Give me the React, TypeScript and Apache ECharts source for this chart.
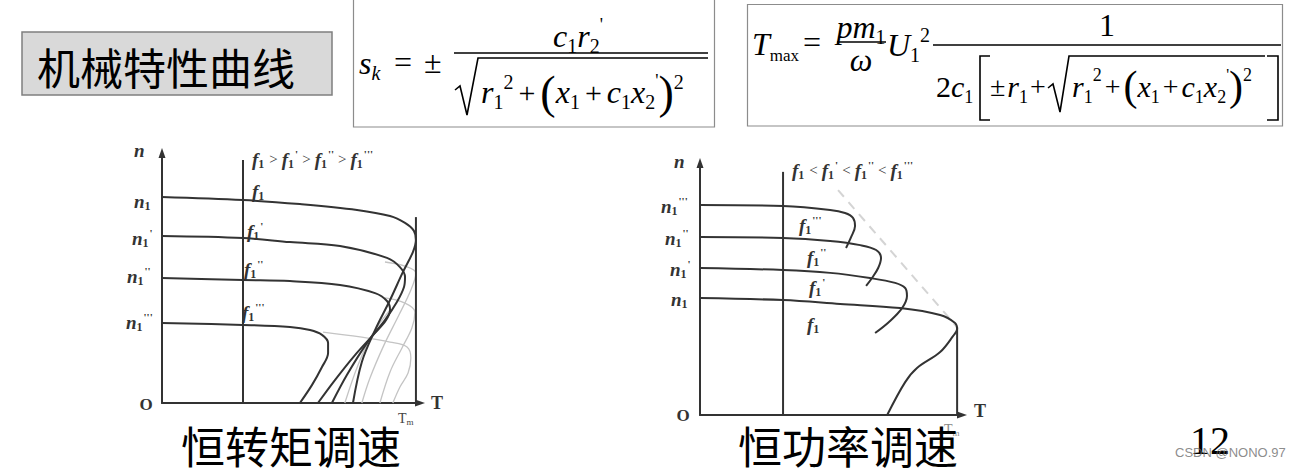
import React, { useEffect, useRef } from 'react';
import * as echarts from 'echarts';

// ---------- data (T in % of Tm, n in % of axis height) ----------
// 恒转矩调速 (left)
const leftF1 = [[0, 80.8], [31.9, 79.6], [54.3, 78.0], [76.8, 75.7], [89.8, 73.3], [95.7, 70.6], [99.2, 67.5], [100, 63.9], [98.8, 59.2], [94.9, 51.4], [89.8, 40.4], [83.9, 28.6], [78.7, 16.1], [75.2, 0]];
const leftF1p = [[0, 65.5], [31.9, 64.7], [50.4, 63.1], [70.1, 61.6], [88.6, 56.9], [93.7, 53.3], [95.7, 49.4], [95.3, 45.5], [92.5, 39.6], [87.8, 32.5], [80.7, 23.5], [72.8, 11.0], [66.9, 0]];
const leftF1pp = [[0, 49.0], [31.9, 48.2], [50.4, 47.8], [70.1, 46.3], [83.9, 43.1], [88.6, 40.0], [89.8, 36.5], [88.2, 32.5], [83.9, 27.5], [76.0, 18.8], [68.1, 9.0], [61.4, 0]];
const leftF1ppp = [[0, 31.4], [31.9, 30.6], [50.4, 29.8], [58.3, 28.6], [63.0, 26.7], [65.4, 23.5], [65.4, 19.6], [63.0, 14.1], [59.1, 7.1], [54.3, 0]];
const leftGrayA = [[87.8, 55.3], [95.7, 53.7], [100, 51.0], [98.0, 44.3], [93.3, 34.5], [87.4, 22.7], [81.9, 9.8], [78.7, 0]];
const leftGrayB = [[87.8, 41.2], [95.7, 39.2], [99.6, 35.7], [98.4, 29.4], [94.5, 21.6], [89.8, 12.2], [85.8, 0]];
const leftGrayC = [[63.4, 27.8], [78.0, 25.9], [89.8, 23.9], [96.5, 22.0], [98.0, 17.6], [96.9, 11.8], [93.7, 6.3], [90.9, 0]];
const leftGrayD = [[72.0, 0], [77.2, 14.9], [82.7, 26.7], [89.8, 36.5]];
const leftMidLine = [[31.9, 0], [31.9, 95.3]];
const leftTmLine = [[100, 0], [100, 72.9]];

// 恒功率调速 (right)
const rightF1ppp = [[0, 81.7], [32.3, 81.3], [50.6, 79.8], [56.4, 78.6], [59.5, 76.7], [60.3, 73.5], [58.8, 69.3], [56.8, 65.0]];
const rightF1pp = [[0, 69.3], [32.3, 68.9], [50.6, 67.7], [62.3, 66.1], [68.5, 64.2], [70.4, 61.1], [69.3, 57.2], [66.9, 53.3], [64.6, 50.2]];
const rightF1p = [[0, 57.2], [32.3, 56.4], [50.6, 55.3], [66.1, 53.3], [75.9, 51.4], [79.8, 49.4], [80.5, 46.3], [78.6, 41.6], [73.5, 36.2], [68.1, 31.9]];
const rightF1 = [[0, 45.5], [32.3, 44.7], [54.5, 43.2], [77.8, 41.6], [93.4, 38.9], [99.2, 35.8], [100, 33.5], [98.4, 30.7], [93.4, 24.5], [84.4, 18.3], [79.8, 12.8], [72.8, 0]];
const rightDiag = [[53.7, 87.5], [100, 34.2]];
const rightMidLine = [[32.3, 0], [32.3, 94.6]];
const rightTmLine = [[100, 0], [100, 34.2]];

// texts
const titleText = '机械特性曲线';
const leftCaption = '恒转矩调速';
const rightCaption = '恒功率调速';
const pageNo = '12';
const watermark = 'CSDN @NONO.97';

const SERIF = '"Liberation Serif", "Times New Roman", serif';
const CJK = '"Noto Sans CJK SC", sans-serif';

function mathRich(main: number, sub: number, pad: number, paren: number): any {
  return {
    i: { fontFamily: SERIF, fontStyle: 'italic', fontSize: main, lineHeight: 40 },
    n: { fontFamily: SERIF, fontSize: main, lineHeight: 40 },
    b: { fontFamily: SERIF, fontSize: main - 2, lineHeight: 40, padding: [0, pad] },
    s: { fontFamily: SERIF, fontSize: sub, lineHeight: 22, verticalAlign: 'bottom' },
    si: { fontFamily: SERIF, fontStyle: 'italic', fontSize: sub, lineHeight: 22, verticalAlign: 'bottom' },
    sr: { fontFamily: SERIF, fontSize: sub - 3, lineHeight: 20, verticalAlign: 'bottom' },
    u: { fontFamily: SERIF, fontSize: sub, lineHeight: 22, verticalAlign: 'top' },
    q: { fontFamily: SERIF, fontSize: sub - 2, lineHeight: 24, verticalAlign: 'top' },
    P: { fontFamily: SERIF, fontSize: paren, lineHeight: 40 },
  };
}
const FR = mathRich(32, 20, 5, 46);
const FR2 = mathRich(30, 18, 3, 42);
const FR3 = mathRich(30, 18, 2, 42);

const LR: any = {
  i: { fontFamily: SERIF, fontStyle: 'italic', fontWeight: 'bold', fontSize: 19, lineHeight: 22 },
  s: { fontFamily: SERIF, fontWeight: 'bold', fontSize: 12, lineHeight: 13, verticalAlign: 'bottom', padding: [0, 1, 0, 0] },
  p: { fontFamily: SERIF, fontWeight: 'bold', fontSize: 11, lineHeight: 13, verticalAlign: 'top' },
  o: { fontFamily: SERIF, fontSize: 15, lineHeight: 22, padding: [0, 4] },
};

function txt(x: number, y: number, text: string, rich: any, extra: any = {}) {
  return {
    type: 'text',
    x,
    y,
    silent: true,
    style: {
      text,
      rich,
      fill: extra.fill || '#000',
      align: extra.align || 'left',
      verticalAlign: 'middle',
      fontFamily: extra.fontFamily || SERIF,
      fontSize: extra.fontSize || 16,
      fontWeight: extra.fontWeight || 'normal',
    },
    z: extra.z || 10,
  };
}

function pl(points: number[][], w = 1.6, color = '#000') {
  return { type: 'polyline', silent: true, shape: { points }, style: { stroke: color, lineWidth: w, fill: 'none' }, z: 10 };
}

function ln(x1: number, y1: number, x2: number, y2: number, w = 1.6, color = '#000') {
  return { type: 'line', silent: true, shape: { x1, y1, x2, y2 }, style: { stroke: color, lineWidth: w }, z: 10 };
}

const denomInner = "{i|r}{s|1}{u|2}{b|+}{P|(}{i|x}{s|1}{b|+}{i|c}{s|1}{i|x}{s|2}{q|'}{P|)}{u|2}";

export default function App() {
  const ref = useRef<HTMLDivElement>(null);
  useEffect(() => {
    const chart = echarts.init(ref.current!, null, { renderer: 'svg' });
    const dark = '#333';
    const gray = '#c4c4c4';
    const curve = (data: number[][], gi: number, color: string, width: number, z = 3, type: any = 'solid') => ({
      type: 'line', xAxisIndex: gi, yAxisIndex: gi, data, smooth: 0.35, showSymbol: false, symbol: 'none',
      lineStyle: { color, width, type }, silent: true, z, clip: false,
    });
    const straight = (data: number[][], gi: number) => ({
      type: 'line', xAxisIndex: gi, yAxisIndex: gi, data, smooth: false, showSymbol: false, symbol: 'none',
      lineStyle: { color: dark, width: 2 }, silent: true, z: 4, clip: false,
    });
    const axisCommon = {
      type: 'value',
      axisLine: { show: true, onZero: false, lineStyle: { color: dark, width: 2 }, symbol: ['none', 'triangle'], symbolSize: [7, 10] },
      axisTick: { show: false }, axisLabel: { show: false }, splitLine: { show: false },
    };

    const labelFill = { fill: '#333' };
    const tmRich = { a: { fontFamily: SERIF, fontSize: 14, lineHeight: 16 }, b: { fontFamily: SERIF, fontSize: 9, lineHeight: 10, verticalAlign: 'bottom' } };
    const graphic: any[] = [
      // title
      { type: 'rect', silent: true, shape: { x: 22, y: 32, width: 310, height: 63 }, style: { fill: '#d9d9d9', stroke: '#7f7f7f', lineWidth: 1.5 }, z: 5 },
      txt(37, 66, titleText, {}, { fontFamily: CJK, fontSize: 43 }),
      // formula boxes
      { type: 'rect', silent: true, shape: { x: 353.5, y: -1, width: 361, height: 128 }, style: { fill: '#fff', stroke: '#8c8c8c', lineWidth: 1.2 }, z: 5 },
      { type: 'rect', silent: true, shape: { x: 747.5, y: 4.5, width: 535, height: 121.5 }, style: { fill: '#fff', stroke: '#8c8c8c', lineWidth: 1.2 }, z: 5 },
      // formula 1
      txt(359, 63, '{i|s}{si|k}', FR),
      txt(394, 62, '{n|=}', FR),
      txt(424, 62, '{n|±}', FR),
      txt(578, 36, "{i|c}{s|1}{i|r}{s|2}{q|'}", FR, { align: 'center' }),
      ln(454, 53, 708, 53),
      pl([[455, 90], [460, 86], [467, 115], [478, 58], [708, 58]]),
      txt(481, 92, denomInner, FR),
      // formula 2
      txt(752, 44, '{i|T}{sr|max}', FR),
      txt(803, 42, '{n|=}', FR),
      txt(861, 27, '{i|pm}{s|1}', FR, { align: 'center' }),
      ln(837, 42, 886, 42),
      txt(861, 60, '{i|ω}', FR, { align: 'center' }),
      txt(887, 45, '{i|U}{s|1}{u|2}', FR),
      ln(933, 45, 1281, 45),
      txt(1107, 25, '{n|1}', FR, { align: 'center' }),
      txt(936, 86, '{n|2}{i|c}{s|1}', FR2),
      pl([[990, 56], [980, 56], [980, 120], [990, 120]]),
      txt(988, 86, '{b|±}{i|r}{s|1}{b|+}', FR3),
      pl([[1048, 88], [1053, 84], [1060, 112], [1069, 56], [1265, 56]]),
      txt(1072, 86, denomInner, FR2),
      pl([[1267, 56], [1278, 56], [1278, 120], [1267, 120]]),
      // left chart labels
      txt(134, 150, '{i|n}', LR, labelFill),
      txt(134, 201, '{i|n}{s|1}', LR, labelFill),
      txt(132, 238, "{i|n}{s|1}{p|'}", LR, labelFill),
      txt(127, 276, "{i|n}{s|1}{p|''}", LR, labelFill),
      txt(126, 322, "{i|n}{s|1}{p|'''}", LR, labelFill),
      txt(252, 159, "{i|f}{s|1}{o|>}{i|f}{s|1}{p|'}{o|>}{i|f}{s|1}{p|''}{o|>}{i|f}{s|1}{p|'''}", LR, labelFill),
      txt(252, 191, '{i|f}{s|1}', LR, labelFill),
      txt(247, 231, "{i|f}{s|1}{p|'}", LR, labelFill),
      txt(244, 269, "{i|f}{s|1}{p|''}", LR, labelFill),
      txt(242, 312, "{i|f}{s|1}{p|'''}", LR, labelFill),
      txt(146, 404, 'O', {}, { fontSize: 17, fontWeight: 'bold', fill: '#333', align: 'center' }),
      txt(437, 403, 'T', {}, { fontSize: 18, fontWeight: 'bold', fill: '#333', align: 'center' }),
      txt(398, 418, '{a|T}{b|m}', tmRich, { fill: '#444' }),
      // right chart labels
      txt(674, 161, '{i|n}', LR, labelFill),
      txt(661, 206, "{i|n}{s|1}{p|'''}", LR, labelFill),
      txt(665, 238, "{i|n}{s|1}{p|''}", LR, labelFill),
      txt(670, 269, "{i|n}{s|1}{p|'}", LR, labelFill),
      txt(671, 299, '{i|n}{s|1}', LR, labelFill),
      txt(792, 170, "{i|f}{s|1}{o|<}{i|f}{s|1}{p|'}{o|<}{i|f}{s|1}{p|''}{o|<}{i|f}{s|1}{p|'''}", LR, labelFill),
      txt(799, 225, "{i|f}{s|1}{p|'''}", LR, labelFill),
      txt(807, 257, "{i|f}{s|1}{p|''}", LR, labelFill),
      txt(809, 287, "{i|f}{s|1}{p|'}", LR, labelFill),
      txt(807, 324, '{i|f}{s|1}', LR, labelFill),
      txt(683, 415, 'O', {}, { fontSize: 17, fontWeight: 'bold', fill: '#333', align: 'center' }),
      txt(980, 411, 'T', {}, { fontSize: 18, fontWeight: 'bold', fill: '#333', align: 'center' }),
      txt(944, 429, '{a|T}{b|m}', tmRich, { fill: '#888', z: 8 }),
      // captions
      txt(291, 445, leftCaption, {}, { fontFamily: CJK, fontSize: 44, align: 'center', z: 11 }),
      txt(848, 445, rightCaption, {}, { fontFamily: CJK, fontSize: 44, align: 'center', z: 11 }),
      txt(1190, 440, pageNo, {}, { fontFamily: SERIF, fontSize: 40 }),
      txt(1175, 452, watermark, {}, { fontFamily: '"Liberation Sans", Arial, sans-serif', fontSize: 13, fill: 'rgba(110,110,110,0.8)', z: 12 }),
    ];

    chart.setOption({
      animation: false,
      backgroundColor: '#fff',
      grid: [
        { left: 162, top: 153, width: 258, height: 250 },
        { left: 700, top: 163, width: 262, height: 252 },
      ],
      xAxis: [
        { ...axisCommon, gridIndex: 0, min: 0, max: 101.6 },
        { ...axisCommon, gridIndex: 1, min: 0, max: 101.9 },
      ],
      yAxis: [
        { ...axisCommon, gridIndex: 0, min: 0, max: 98.04 },
        { ...axisCommon, gridIndex: 1, min: 0, max: 98.05 },
      ],
      series: [
        curve(leftGrayA, 0, gray, 1.3, 2),
        curve(leftGrayB, 0, gray, 1.3, 2),
        curve(leftGrayC, 0, gray, 1.3, 2),
        curve(leftGrayD, 0, gray, 1.3, 2),
        curve(leftF1, 0, dark, 2),
        curve(leftF1p, 0, dark, 2),
        curve(leftF1pp, 0, dark, 2),
        curve(leftF1ppp, 0, dark, 2),
        straight(leftMidLine, 0),
        straight(leftTmLine, 0),
        curve(rightDiag, 1, '#d4d4d4', 2, 2, [9, 7]),
        curve(rightF1ppp, 1, dark, 2),
        curve(rightF1pp, 1, dark, 2),
        curve(rightF1p, 1, dark, 2),
        curve(rightF1, 1, dark, 2),
        straight(rightMidLine, 1),
        straight(rightTmLine, 1),
      ],
      graphic,
    });
    return () => chart.dispose();
  }, []);
  return <div ref={ref} style={{ position: 'fixed', left: 0, top: 0, width: 1293, height: 469, background: '#fff' }} />;
}
